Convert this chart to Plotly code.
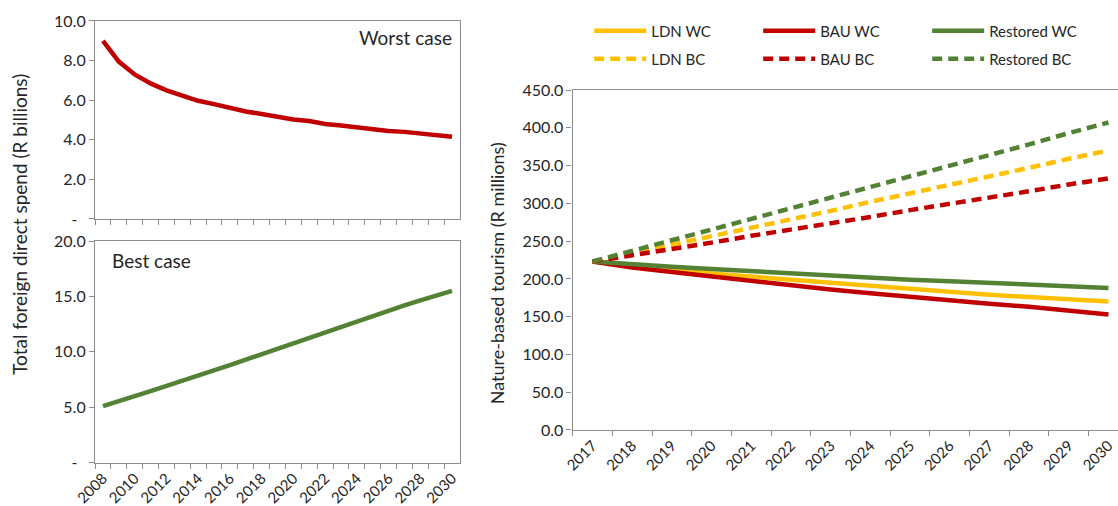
import plotly.graph_objects as go

# left panels: total foreign direct spend (R billions), 2008-2030
years_left = ["2008", "2009", "2010", "2011", "2012", "2013", "2014", "2015",
              "2016", "2017", "2018", "2019", "2020", "2021", "2022", "2023",
              "2024", "2025", "2026", "2027", "2028", "2029", "2030"]
labels_left = ["2008", "", "2010", "", "2012", "", "2014", "", "2016", "",
               "2018", "", "2020", "", "2022", "", "2024", "", "2026", "",
               "2028", "", "2030"]
worst_case = [9.0, 7.95, 7.3, 6.85, 6.5, 6.25, 5.97, 5.8, 5.6, 5.43, 5.3, 5.15,
              5.03, 4.95, 4.8, 4.72, 4.62, 4.53, 4.45, 4.4, 4.3, 4.2, 4.15]
best_case = [5.1, 5.6, 6.0, 6.45, 6.9, 7.4, 7.9, 8.35, 8.8, 9.3, 9.8, 10.3,
             10.8, 11.3, 11.8, 12.25, 12.75, 13.25, 13.72, 14.2, 14.65, 15.08, 15.5]

# right panel: nature-based tourism (R millions), 2017-2030
years_right = ["2017", "2018", "2019", "2020", "2021", "2022", "2023",
               "2024", "2025", "2026", "2027", "2028", "2029", "2030"]
ldn_wc = [223, 217, 212, 207, 203, 198, 194, 190, 186, 183, 179, 176, 173, 170]
bau_wc = [223, 215, 209, 203, 197, 192, 186, 181, 176, 172, 167, 163, 158, 153]
restored_wc = [223, 219, 216, 213, 210, 207, 204, 202, 199, 197, 195, 193, 190, 188]
ldn_bc = [223, 234, 245, 256, 267, 279, 290, 302, 313, 324, 336, 347, 359, 370]
bau_bc = [223, 231, 240, 248, 257, 265, 274, 282, 291, 299, 308, 316, 325, 333]
restored_bc = [223, 237, 251, 265, 279, 293, 307, 321, 335, 350, 364, 378, 393, 407]

YELLOW = "#FFC000"
RED = "#C00000"
GREEN = "#548235"
AXIS = "#8c8c8c"
TXT = "#262626"
FONT = "Lato"

fig = go.Figure()

fig.add_trace(go.Scatter(x=years_left, y=worst_case, mode="lines",
                         line=dict(color=RED, width=4.5), showlegend=False,
                         xaxis="x", yaxis="y"))
fig.add_trace(go.Scatter(x=years_left, y=best_case, mode="lines",
                         line=dict(color=GREEN, width=4.5), showlegend=False,
                         xaxis="x2", yaxis="y2"))

right_series = [
    ("LDN WC", ldn_wc, YELLOW, "solid", "legend"),
    ("BAU WC", bau_wc, RED, "solid", "legend"),
    ("Restored WC", restored_wc, GREEN, "solid", "legend"),
    ("LDN BC", ldn_bc, YELLOW, "10px,6px", "legend2"),
    ("BAU BC", bau_bc, RED, "10px,6px", "legend2"),
    ("Restored BC", restored_bc, GREEN, "10px,6px", "legend2"),
]
for name, vals, col, dash, leg in right_series:
    fig.add_trace(go.Scatter(x=years_right, y=vals, mode="lines", name=name,
                             line=dict(color=col, width=4.5, dash=dash),
                             legend=leg, xaxis="x3", yaxis="y3"))

axis_common = dict(showline=True, linecolor=AXIS, linewidth=1.3, showgrid=False,
                   zeroline=False, ticks="outside", ticklen=5, tickcolor=AXIS,
                   tickwidth=1.3, automargin=False,
                   tickfont=dict(size=16, color=TXT, family=FONT))
xtick_font = dict(size=15, color=TXT, family=FONT)

leg_common = dict(orientation="h", xanchor="left", yanchor="middle",
                  entrywidth=102, entrywidthmode="pixels", traceorder="normal",
                  itemwidth=52,
                  font=dict(size=15, color=TXT, family=FONT),
                  bgcolor="rgba(0,0,0,0)")

fig.update_layout(
    width=1118, height=506,
    margin=dict(l=0, r=0, t=0, b=0, autoexpand=False),
    paper_bgcolor="white", plot_bgcolor="white",
    font=dict(family=FONT, color=TXT),
    xaxis=dict(axis_common, domain=[0.085, 0.4114], anchor="y", type="category",
               tickvals=years_left, ticktext=[""] * len(years_left),
               tickson="boundaries", mirror=True, range=[-0.5, 22.5]),
    yaxis=dict(axis_common, domain=[0.5672, 0.9585], anchor="x", range=[0, 10],
               tickvals=[0, 2, 4, 6, 8, 10],
               ticktext=["-\u00a0\u00a0", "2.0", "4.0", "6.0", "8.0", "10.0"],
               mirror=True),
    xaxis2=dict(axis_common, domain=[0.085, 0.4114], anchor="y2", type="category",
                tickvals=years_left, ticktext=labels_left, tickangle=-45,
                tickfont=xtick_font,
                tickson="boundaries", mirror=True, range=[-0.5, 22.5]),
    yaxis2=dict(axis_common, domain=[0.0856, 0.5237], anchor="x2", range=[0, 20],
                tickvals=[0, 5, 10, 15, 20],
                ticktext=["-\u00a0\u00a0", "5.0", "10.0", "15.0", "20.0"],
                mirror=True),
    xaxis3=dict(axis_common, domain=[0.5122, 1.0], anchor="y3", type="category",
                tickvals=years_right, ticktext=years_right, tickangle=-45,
                tickfont=xtick_font,
                tickson="boundaries", mirror=True, range=[-0.5, 13.24]),
    yaxis3=dict(axis_common, domain=[0.1502, 0.8221], anchor="x3", range=[0, 450],
                tickvals=[0, 50, 100, 150, 200, 250, 300, 350, 400, 450],
                ticktext=["0.0", "50.0", "100.0", "150.0", "200.0", "250.0",
                          "300.0", "350.0", "400.0", "450.0"]),
    legend=dict(leg_common, x=0.527, y=0.9387),
    legend2=dict(leg_common, x=0.527, y=0.8834),
    annotations=[
        dict(text="Worst case", xref="paper", yref="paper", x=0.406, y=0.925,
             xanchor="right", yanchor="middle", showarrow=False,
             font=dict(size=19, color=TXT, family=FONT)),
        dict(text="Best case", xref="paper", yref="paper", x=0.098, y=0.486,
             xanchor="left", yanchor="middle", showarrow=False,
             font=dict(size=19, color=TXT, family=FONT)),
        dict(text="Total foreign direct spend (R billions)", xref="paper", yref="paper",
             x=0.018, y=0.556, xanchor="center", yanchor="middle", textangle=-90,
             showarrow=False, font=dict(size=19, color=TXT, family=FONT)),
        dict(text="Nature-based tourism (R millions)", xref="paper", yref="paper",
             x=0.4445, y=0.46, xanchor="center", yanchor="middle", textangle=-90,
             showarrow=False, font=dict(size=18, color=TXT, family=FONT)),
    ],
)

# drop the default page margin so the figure sits at the top-left corner
fig.write_html("out.html", config={"displayModeBar": False},
               post_script="document.body.style.margin='0';")
